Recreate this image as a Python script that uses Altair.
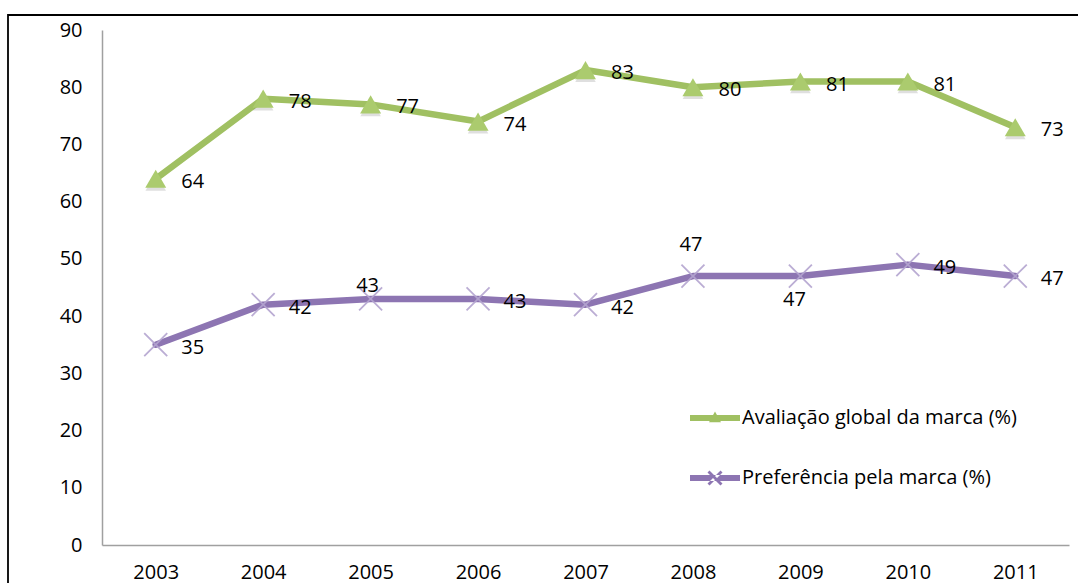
import altair as alt
import pandas as pd

years = ["2003", "2004", "2005", "2006", "2007", "2008", "2009", "2010", "2011"]
avaliacao = [64, 78, 77, 74, 83, 80, 81, 81, 73]
preferencia = [35, 42, 43, 43, 42, 47, 47, 49, 47]
series_names = ["Avaliação global da marca (%)", "Preferência pela marca (%)"]
avaliacao_label_pos = ["right"] * 9
preferencia_label_pos = ["right", "right", "above_near", "right", "right",
                         "above", "below", "right", "right"]

GREEN = "#a0c062"
PURPLE = "#8d75b2"
FONT = "Open Sans"
FS = 20

rows = []
for name, vals, pos in [(series_names[0], avaliacao, avaliacao_label_pos),
                        (series_names[1], preferencia, preferencia_label_pos)]:
    for yr, v, p in zip(years, vals, pos):
        rows.append({"year": yr, "value": v, "series": name, "pos": p})
df = pd.DataFrame(rows)

# pixel offsets of the value labels relative to their point
label_offsets = {
    "right": (37, 3),
    "above": (-2, -31),
    "above_near": (-3, -13),
    "below": (-6, 24),
}

x_enc = alt.X(
    "year:N", sort=years,
    scale=alt.Scale(type="point", range=[94, 1061], padding=0.5),
    axis=alt.Axis(title=None, labelAngle=0, ticks=False, tickSize=0, grid=False,
                  domainColor="#a0a0a0", domainWidth=1.5,
                  labelFont=FONT, labelFontSize=FS, labelColor="#000",
                  labelPadding=17, offset=-48),
)
y_enc = alt.Y(
    "value:Q",
    scale=alt.Scale(domain=[0, 90], range=[530, 15], nice=False),
    axis=alt.Axis(title=None, values=list(range(0, 91, 10)), ticks=False, tickSize=0,
                  grid=False, domainColor="#a0a0a0", domainWidth=1.5,
                  labelFont=FONT, labelFontSize=FS, labelColor="#000",
                  labelPadding=20, offset=-94),
)

base = alt.Chart(df).encode(x=x_enc, y=y_enc)

is_green = alt.datum.series == series_names[0]
is_purple = alt.datum.series == series_names[1]

line_green = base.transform_filter(is_green).mark_line(
    color=GREEN, strokeWidth=6.5, strokeJoin="round", strokeCap="round")
line_purple = base.transform_filter(is_purple).mark_line(
    color=PURPLE, strokeWidth=6.5, strokeJoin="round", strokeCap="round")

X_PATH = "M-1,-1L1,1M-1,1L1,-1"
tri_shadow = base.transform_filter(is_green).mark_point(
    shape="triangle-up", filled=True, size=420, color="#7f7f7f", opacity=0.25
).encode(yOffset=alt.value(3))
tri_marks = base.transform_filter(is_green).mark_point(
    shape="triangle-up", filled=True, size=440, color="#abcb6e", opacity=1)
x_marks = base.transform_filter(is_purple).mark_point(
    shape=X_PATH, filled=False, size=529, strokeWidth=1.8, color="#b4a5d0", opacity=0.9)

# legend symbols: a short bar with the series marker on it
a, d = 0.26, 0.04
LEG_TRI = "M-1,-0.12H1V0.12H-1Z M0,-0.26L0.24,0.17H-0.24Z"
LEG_X = ("M-1,-0.12H1V0.12H-1Z "
         f"M{-a+d},{-a-d}L{a+d},{a-d}L{a-d},{a+d}L{-a-d},{-a+d}Z "
         f"M{-a+d},{a+d}L{a+d},{-a+d}L{a-d},{-a-d}L{-a-d},{a-d}Z")

legend = alt.Legend(orient="none", legendX=682, legendY=378, title=None,
                    labelFont=FONT, labelFontSize=FS, labelColor="#000",
                    labelLimit=0, symbolSize=2500, symbolOpacity=1,
                    symbolStrokeWidth=0, rowPadding=25, labelOffset=2, padding=0)

legend_layer = base.mark_point(filled=True, opacity=0).encode(
    color=alt.Color("series:N", scale=alt.Scale(domain=series_names, range=[GREEN, PURPLE]),
                    legend=legend),
    shape=alt.Shape("series:N", scale=alt.Scale(domain=series_names, range=[LEG_TRI, LEG_X]),
                    legend=legend),
)

text_layers = []
for key, (dx, dy) in label_offsets.items():
    text_layers.append(
        base.transform_filter(alt.datum.pos == key).mark_text(
            dx=dx, dy=dy, font=FONT, fontSize=FS, color="#000",
            align="center", baseline="middle").encode(text="value:Q")
    )

chart = alt.layer(line_green, line_purple, tri_shadow, tri_marks, x_marks, legend_layer,
                  *text_layers).properties(
    width=1080, height=578,
    padding={"left": 8, "top": 15, "right": -10, "bottom": -10},
    autosize="none",
    background="white",
).configure_view(stroke="#000", strokeWidth=1.8)

chart.save("out.html", embed_options={"renderer": "svg", "actions": False})
